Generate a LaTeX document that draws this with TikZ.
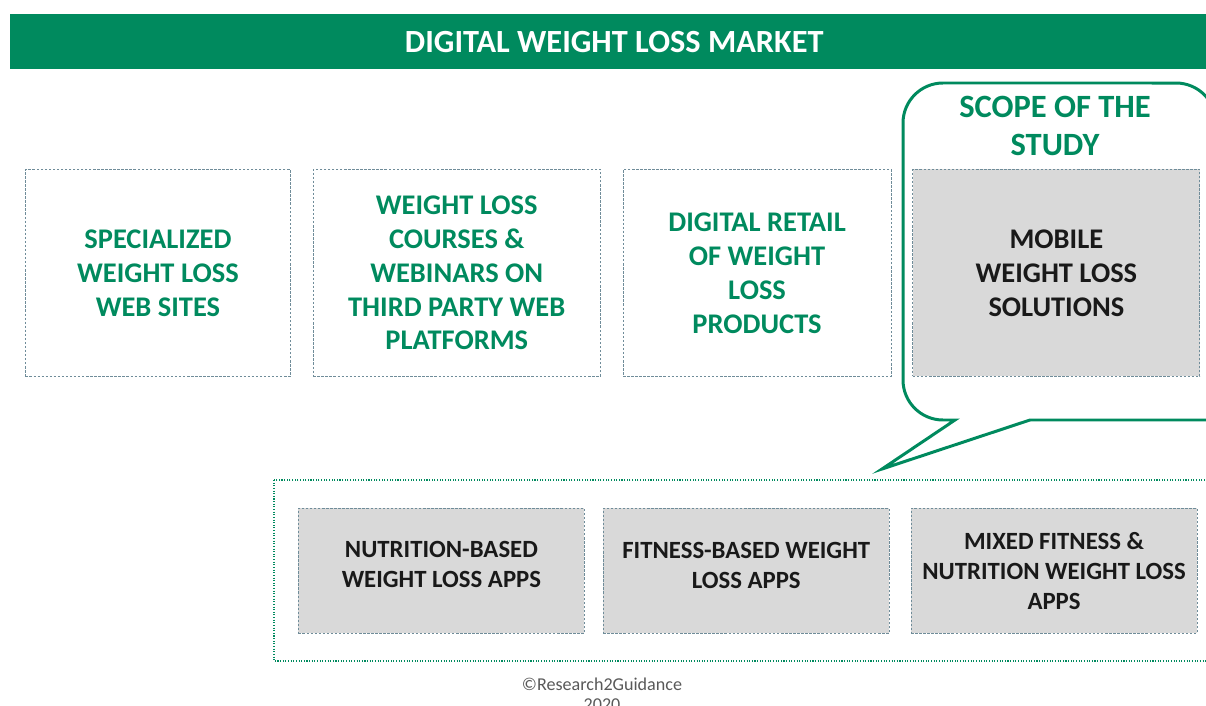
\documentclass[tikz,border=0pt]{standalone}
\usepackage{fontspec}
\setmainfont{Carlito}
\usetikzlibrary{positioning}

\definecolor{r2ggreen}{HTML}{008A5E}
\definecolor{boxline}{HTML}{6F8C99}
\definecolor{appgray}{HTML}{D9D9D9}
\definecolor{notegray}{HTML}{595959}

\tikzset{
  banner/.style={fill=r2ggreen, text=white, inner sep=0pt,
    font=\bfseries\fontsize{18.4}{21}\selectfont},
  segment/.style={draw=boxline, dash pattern=on 1.4pt off 0.9pt, line width=0.5pt,
    align=center, inner sep=0pt, minimum height=4.14cm, text=r2ggreen,
    font=\bfseries\fontsize{16.2}{19.3}\selectfont},
  mobile/.style={segment, fill=appgray, text=black!90},
  appbox/.style={mobile, minimum width=5.72cm, minimum height=2.5cm,
    font=\bfseries\fontsize{14.1}{17}\selectfont},
  bubble/.style={draw=r2ggreen, line width=1.7pt},
  appsframe/.style={draw=r2ggreen, line width=0.8pt, dash pattern=on 0.6pt off 0.9pt},
}

\begin{document}
\begin{tikzpicture}[x=0.02cm,y=0.02cm]
\clip (0,0) rectangle (1206,-706);

\node[banner, anchor=north west, minimum width=24.16cm, minimum height=1.1cm]
  (market) at (10,-14) {DIGITAL WEIGHT LOSS MARKET};

% speech bubble around the studied segment
\draw[bubble] (955,-420) -- (882,-469) -- (1030,-420) -- (1216,-420) -- (1216,-123)
  arc[start angle=0, end angle=90, radius=0.8cm] -- (943,-83)
  arc[start angle=90, end angle=180, radius=0.8cm] -- (903,-380)
  arc[start angle=180, end angle=270, radius=0.8cm] -- cycle;
\node[text=r2ggreen, align=center, font=\bfseries\fontsize{18.5}{22}\selectfont]
  (scope) at (1055,-126) {SCOPE OF THE\\STUDY};

% market segments
\node[segment, anchor=north west, minimum width=5.3cm] (websites) at (25,-169)
  {SPECIALIZED\\WEIGHT LOSS\\WEB SITES};
\node[segment, minimum width=5.74cm, right=0.44cm of websites] (courses)
  {WEIGHT LOSS\\COURSES \&\\WEBINARS ON\\THIRD PARTY WEB\\PLATFORMS};
\node[segment, minimum width=5.36cm, right=0.44cm of courses] (retail)
  {DIGITAL RETAIL\\OF WEIGHT\\LOSS\\PRODUCTS};
\node[mobile, minimum width=5.74cm, right=0.42cm of retail] (mobile)
  {MOBILE\\WEIGHT LOSS\\SOLUTIONS};

% app types
\draw[appsframe] (274,-480) rectangle (1216,-661);
\node[appbox, anchor=north west] (nutrition) at (298,-508)
  {NUTRITION-BASED\\WEIGHT LOSS APPS\\[-10pt]};
\node[appbox, right=0.36cm of nutrition] (fitness)
  {FITNESS-BASED WEIGHT\\LOSS APPS\\[-11pt]};
\node[appbox, right=0.42cm of fitness] (mixed)
  {MIXED FITNESS \&\\NUTRITION WEIGHT LOSS\\APPS};

\node[text=notegray, align=center, font=\fontsize{10.3}{11.3}\selectfont]
  (copyright) at (602,-694) {©Research2Guidance\\2020};
\end{tikzpicture}
\end{document}
